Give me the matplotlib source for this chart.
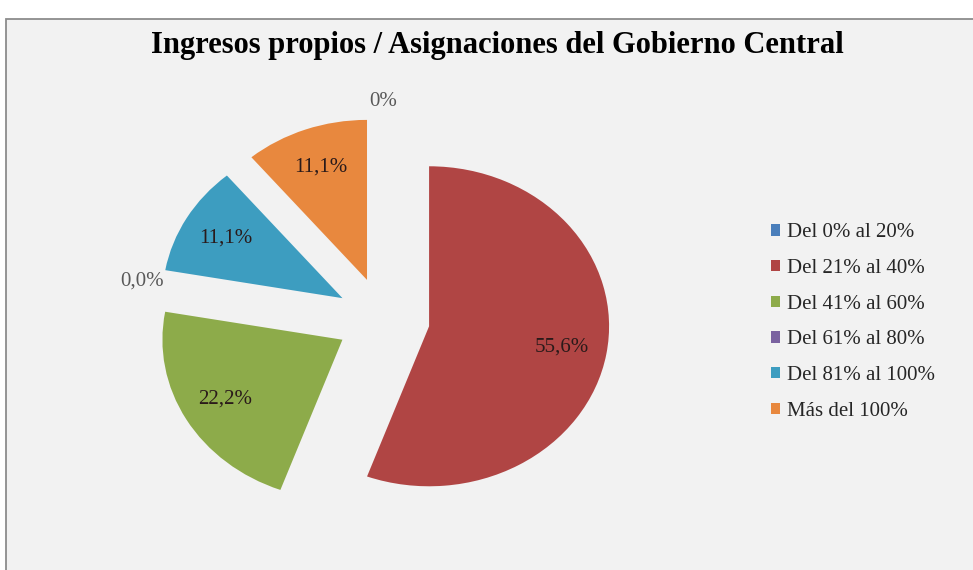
import matplotlib
matplotlib.use('Agg')
import matplotlib.pyplot as plt
from matplotlib.patches import Rectangle

# data
title = 'Ingresos propios / Asignaciones del Gobierno Central'
categories = ['Del 0% al 20%', 'Del 21% al 40%', 'Del 41% al 60%',
              'Del 61% al 80%', 'Del 81% al 100%', 'Más del 100%']
values = [0.0, 55.6, 22.2, 0.0, 11.1, 11.1]
zero_labels = ['0%', '', '', '0,0%', '', '']
colors = ['#4A7EBB', '#B04544', '#8DAB4A', '#7A62A0', '#3D9DC0', '#E8883E']

plt.rcParams['font.family'] = ['Liberation Serif', 'DejaVu Serif']

W, H = 973, 570
fig = plt.figure(figsize=(W / 100, H / 100), dpi=100)
fig.patch.set_facecolor('white')

# chart area background with border (right/bottom edges cut off)
fig.add_artist(Rectangle((6 / W, -0.05), 1.0, (H - 19) / H + 0.05,
                         transform=fig.transFigure, facecolor='#F2F2F2',
                         edgecolor='#8C8C8C', linewidth=1.3, zorder=0))

ax = fig.add_axes([113 / W, 11 / H, 540 / W, 480 / H])
ax.axis('off')


def fmt(p):
    if p <= 0:
        return ''
    return ('%.1f%%' % p).replace('.', ',')


wedges, texts, autotexts = ax.pie(
    values, labels=zero_labels, colors=colors, explode=[0.26] * len(values),
    startangle=90, counterclock=False, autopct=fmt, pctdistance=0.75,
    labeldistance=1.1, wedgeprops=dict(linewidth=0),
    textprops=dict(fontsize=15))
for t in texts:
    t.set_ha('center')
    t.set_color('#595959')
for t in autotexts:
    t.set_color('#2A1A1A')

# the picture is stretched horizontally, so the pie is an ellipse
ax.set_aspect('auto')
ax.set_xlim(-1.5, 1.5)
ax.set_ylim(-1.5, 1.5)

fig.text(497 / W, 1 - 46 / H, title, ha='center', va='center',
         fontsize=22, fontweight='bold', color='black')

fig.legend(wedges, categories, loc='center left',
           bbox_to_anchor=(771 / W, 1 - 322 / H), bbox_transform=fig.transFigure,
           frameon=False, fontsize=15, handlelength=0.45, handleheight=0.45,
           handletextpad=0.3, labelspacing=0.8, borderpad=0, borderaxespad=0,
           labelcolor='#262626')

fig.savefig('out.png', dpi=100)
